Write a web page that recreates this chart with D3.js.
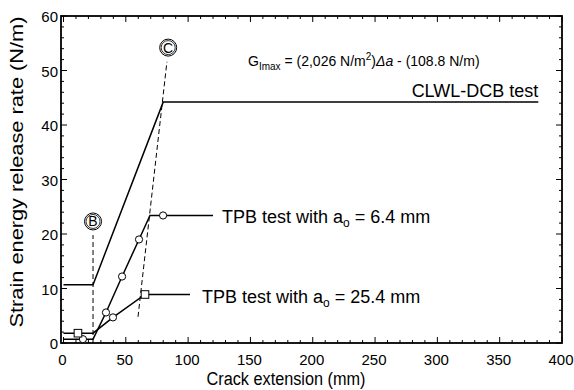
<!DOCTYPE html>
<html>
<head>
<meta charset="utf-8">
<style>
body { margin: 0; background: #fff; }
text { font-family: "Liberation Sans", Arial, sans-serif; fill: #000; }
.frame { fill: none; stroke: #000; stroke-width: 1.8px; }
.series { fill: none; stroke: #000; stroke-width: 1.5px; }
.guide { fill: none; stroke: #000; stroke-width: 1px; stroke-dasharray: 5,3; }
.tick { font-size: 15px; }
</style>
<title></title></head>
<body>
<script src="https://d3js.org/d3.v7.min.js"></script>
<script>

// data
var xTicks = [0, 50, 100, 150, 200, 250, 300, 350, 400];
var yTicks = [0, 10, 20, 30, 40, 50, 60];

var clwl = [[0, 10.7], [23.7, 10.7], [80, 44.2], [381, 44.2]];
var tpb64 = [[0, 0.7], [23.7, 0.7], [34.1, 5.6], [47, 12.2], [60.6, 19], [69.4, 23.4], [79.9, 23.4], [120, 23.4]];
var tpb64Circles = [[15.6, 0.7], [34.1, 5.6], [47, 12.2], [60.6, 19], [79.9, 23.4]];
var tpb254 = [[0, 1.8], [23.7, 1.8], [39.7, 4.7], [65.4, 8.9], [101.5, 8.9]];
var tpb254Circles = [[39.7, 4.7]];
var tpb254Squares = [[11.6, 1.8], [65.4, 8.9]];
var guideB = [[23.7, 0], [23.7, 19.8]];
var guideC = [[59.8, 4.8], [83, 51.6]];

var width = 574, height = 390;
var mLeft = 61, mRight = 562, mTop = 16, mBottom = 343;

var svg = d3.select("body").append("svg")
    .attr("width", width)
    .attr("height", height);

var x = d3.scaleLinear().domain([-2, 400]).range([mLeft, mRight]);
var y = d3.scaleLinear().domain([0, 60]).range([mBottom, mTop]);

// minor + major ticks, inward on all four sides
var xMinor = d3.range(0, 401, 10);
var yMinor = d3.range(0, 61, 2);

var tickG = svg.append("g").attr("stroke", "#000").attr("stroke-width", 1);
xMinor.forEach(function(v) {
  var len = v % 50 == 0 ? 6 : 3;
  tickG.append("line").attr("x1", x(v)).attr("x2", x(v)).attr("y1", mBottom).attr("y2", mBottom - len);
  tickG.append("line").attr("x1", x(v)).attr("x2", x(v)).attr("y1", mTop).attr("y2", mTop + len);
});
yMinor.forEach(function(v) {
  var len = v % 10 == 0 ? 6 : 3;
  tickG.append("line").attr("x1", mLeft).attr("x2", mLeft + len).attr("y1", y(v)).attr("y2", y(v));
  tickG.append("line").attr("x1", mRight).attr("x2", mRight - len).attr("y1", y(v)).attr("y2", y(v));
});

svg.append("rect").attr("class", "frame")
    .attr("x", mLeft).attr("y", mTop)
    .attr("width", mRight - mLeft).attr("height", mBottom - mTop);

// tick labels
svg.append("g").selectAll("text").data(xTicks).enter().append("text")
    .attr("class", "tick")
    .attr("x", function(d) { return x(d) - 1; })
    .attr("y", mBottom + 22)
    .attr("text-anchor", "middle")
    .text(function(d) { return d; });

svg.append("g").selectAll("text").data(yTicks).enter().append("text")
    .attr("class", "tick")
    .attr("x", mLeft - 3)
    .attr("y", function(d) { return y(d) + 6; })
    .attr("text-anchor", "end")
    .text(function(d) { return d; });

// axis titles
svg.append("text")
    .attr("x", 286)
    .attr("y", 385)
    .attr("text-anchor", "middle")
    .attr("textLength", 159)
    .attr("lengthAdjust", "spacingAndGlyphs")
    .style("font-size", "18px")
    .text("Crack extension (mm)");

svg.append("text")
    .attr("transform", "translate(23,172) rotate(-90)")
    .attr("text-anchor", "middle")
    .attr("textLength", 311)
    .attr("lengthAdjust", "spacingAndGlyphs")
    .style("font-size", "19px")
    .text("Strain energy release rate (N/m)");

var line = d3.line()
    .x(function(d) { return x(d[0]); })
    .y(function(d) { return y(d[1]); });

svg.append("path").attr("class", "guide").attr("d", line(guideB));
svg.append("path").attr("class", "guide").attr("d", line(guideC));

[clwl, tpb64, tpb254].forEach(function(s) {
  svg.append("path").attr("class", "series").attr("d", line(s));
});

// markers
svg.append("g").selectAll("circle").data(tpb64Circles.concat(tpb254Circles)).enter().append("circle")
    .attr("cx", function(d) { return x(d[0]); })
    .attr("cy", function(d) { return y(d[1]); })
    .attr("r", 3.6)
    .attr("fill", "#fff")
    .attr("stroke", "#000")
    .attr("stroke-width", 1);

svg.append("g").selectAll("rect").data(tpb254Squares).enter().append("rect")
    .attr("x", function(d) { return x(d[0]) - 3.8; })
    .attr("y", function(d) { return y(d[1]) - 3.8; })
    .attr("width", 7.6).attr("height", 7.6)
    .attr("fill", "#fff")
    .attr("stroke", "#000")
    .attr("stroke-width", 1);

// circled letters
function circled(cx, cy, letter) {
  var g = svg.append("g").attr("transform", "translate(" + x(cx) + "," + y(cy) + ")");
  g.append("circle").attr("r", 8.5).attr("fill", "none").attr("stroke", "#000").attr("stroke-width", 1);
  g.append("circle").attr("r", 7).attr("fill", "none").attr("stroke", "#000").attr("stroke-width", 0.8);
  g.append("text").attr("text-anchor", "middle").attr("y", 5).style("font-size", "14px").text(letter);
}
circled(23.7, 22.3, "B");
circled(84, 54.2, "C");

// annotations
var eq = svg.append("text").attr("x", 248).attr("y", 66).style("font-size", "14px");
eq.append("tspan").text("G");
eq.append("tspan").attr("dy", 4).style("font-size", "10px").text("Imax");
eq.append("tspan").attr("dy", -4).text(" = (2,026 N/m");
eq.append("tspan").attr("dy", -6).style("font-size", "10px").text("2");
eq.append("tspan").attr("dy", 6).text(")");
eq.append("tspan").style("font-style", "italic").text("\u0394a");
eq.append("tspan").text("  -  (108.8 N/m)");

svg.append("text").attr("x", x(381)).attr("y", 97)
    .attr("text-anchor", "end")
    .style("font-size", "18px")
    .text("CLWL-DCB test");

function tpbLabel(xp, yp, ao) {
  var t = svg.append("text").attr("x", xp).attr("y", yp).style("font-size", "18px");
  t.append("tspan").text("TPB test with a");
  t.append("tspan").attr("dy", 4).style("font-size", "12px").text("o");
  t.append("tspan").attr("dy", -4).text(" = " + ao + " mm");
}
tpbLabel(222, 223, "6.4");
tpbLabel(202, 303, "25.4");

</script>
</body>
</html>
